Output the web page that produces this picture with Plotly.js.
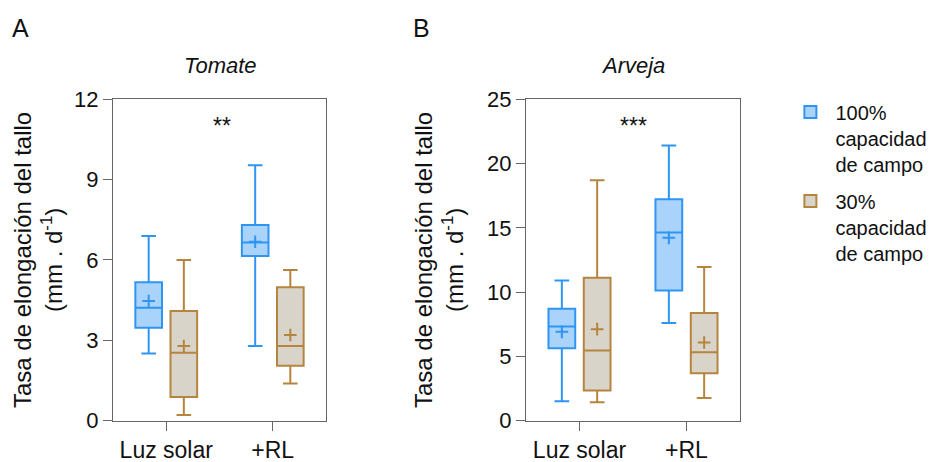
<!DOCTYPE html>
<html>
<head>
<meta charset="utf-8">
<script src="https://cdn.plot.ly/plotly-3.0.1.min.js"></script>
<style>html,body{margin:0;padding:0;background:#fff;}#chart{width:935px;height:462px;}</style>
</head>
<body>
<div id="chart"></div>
<script>
// ---- data ----
const categories = ["Luz solar", "+RL"];
const seriesNames = ["100%<br>capacidad<br>de campo", "30%<br>capacidad<br>de campo"];

// Panel A – Tomate
const tomate100_low = [2.51, 2.79];
const tomate100_q1  = [3.47, 6.15];
const tomate100_med = [4.22, 6.65];
const tomate100_q3  = [5.17, 7.31];
const tomate100_high= [6.90, 9.54];
const tomate100_mean= [4.47, 6.68];

const tomate30_low  = [0.21, 1.39];
const tomate30_q1   = [0.88, 2.05];
const tomate30_med  = [2.54, 2.79];
const tomate30_q3   = [4.10, 4.98];
const tomate30_high = [6.00, 5.63];
const tomate30_mean = [2.79, 3.20];

// Panel B – Arveja
const arveja100_low = [1.51, 7.59];
const arveja100_q1  = [5.64, 10.13];
const arveja100_med = [7.33, 14.63];
const arveja100_q3  = [8.71, 17.23];
const arveja100_high= [10.91, 21.41];
const arveja100_mean= [6.91, 14.22];

const arveja30_low  = [1.43, 1.77];
const arveja30_q1   = [2.34, 3.69];
const arveja30_med  = [5.46, 5.33];
const arveja30_q3   = [11.12, 8.37];
const arveja30_high = [18.71, 11.95];
const arveja30_mean = [7.12, 6.08];

const yTicksA = [0, 3, 6, 9, 12];
const yTicksB = [0, 5, 10, 15, 20, 25];
const sigA = "**";
const sigB = "***";

// ---- style ----
const FONT = "Liberation Sans, Arial, Helvetica, sans-serif";
const blue = "#2F95F2", blueFill = "#A9D3FA";
const brown = "#B5843E", brownFill = "#D9D4CA";
const OFFSET = 0.165, BOXW = 0.25;
const idx = categories.map((c, i) => i);
const pos = (sign) => idx.map(i => i + sign * OFFSET);

function boxTrace(name, xa, ya, sign, low, q1, med, q3, high, line, fill, showlegend, group) {
  return {
    type: "box", name: name, legendgroup: group, showlegend: showlegend,
    x: pos(sign), xaxis: xa, yaxis: ya,
    lowerfence: low, q1: q1, median: med, q3: q3, upperfence: high,
    width: BOXW, whiskerwidth: 0.55, boxpoints: false,
    line: {color: line, width: 2}, fillcolor: fill,
    hoverinfo: "skip"
  };
}
function meanTrace(xa, ya, sign, mean, color, group) {
  return {
    type: "scatter", mode: "markers", x: pos(sign), y: mean, xaxis: xa, yaxis: ya,
    showlegend: false, legendgroup: group, hoverinfo: "skip",
    marker: {symbol: "cross-thin", size: 9, line: {color: color, width: 2}}
  };
}

const data = [
  boxTrace(seriesNames[0], "x", "y", -1, tomate100_low, tomate100_q1, tomate100_med, tomate100_q3, tomate100_high, blue, blueFill, true, "g1"),
  boxTrace(seriesNames[1], "x", "y", 1, tomate30_low, tomate30_q1, tomate30_med, tomate30_q3, tomate30_high, brown, brownFill, true, "g2"),
  boxTrace(seriesNames[0], "x2", "y2", -1, arveja100_low, arveja100_q1, arveja100_med, arveja100_q3, arveja100_high, blue, blueFill, false, "g1"),
  boxTrace(seriesNames[1], "x2", "y2", 1, arveja30_low, arveja30_q1, arveja30_med, arveja30_q3, arveja30_high, brown, brownFill, false, "g2"),
  meanTrace("x", "y", -1, tomate100_mean, blue, "g1"),
  meanTrace("x", "y", 1, tomate30_mean, brown, "g2"),
  meanTrace("x2", "y2", -1, arveja100_mean, blue, "g1"),
  meanTrace("x2", "y2", 1, arveja30_mean, brown, "g2")
];

const axisLine = "#666666";
function xAxis(domain, anchor) {
  return {
    domain: domain, anchor: anchor, range: [-0.5, 1.5],
    tickmode: "array", tickvals: idx, ticktext: categories,
    ticks: "outside", ticklen: 9, tickwidth: 1, tickcolor: axisLine,
    showline: true, mirror: true, linecolor: axisLine, linewidth: 1,
    showgrid: false, zeroline: false, fixedrange: true,
    tickfont: {family: FONT, size: 23, color: "#111"}
  };
}
function yAxis(range, ticks, anchor) {
  return {
    domain: [0.0894, 0.7851], anchor: anchor, range: range,
    tickmode: "array", tickvals: ticks,
    ticks: "outside", ticklen: 9, tickwidth: 1, tickcolor: axisLine,
    showline: true, mirror: true, linecolor: axisLine, linewidth: 1,
    showgrid: false, zeroline: false, fixedrange: true,
    tickfont: {family: FONT, size: 22, color: "#111"}
  };
}

const ytitle = "Tasa de elongación del tallo<br>(mm . d<sup>-1</sup>)";
function ann(text, xref, yref, x, y, size, extra) {
  return Object.assign({text: text, xref: xref, yref: yref, x: x, y: y, xanchor: "center", yanchor: "middle",
    showarrow: false, font: {family: FONT, size: size, color: "#111"}}, extra || {});
}
const layout = {
  width: 935, height: 462,
  margin: {l: 0, r: 0, t: 0, b: 0},
  paper_bgcolor: "#fff", plot_bgcolor: "#fff",
  font: {family: FONT, color: "#111"},
  showlegend: true,
  legend: {
    x: 0.84, y: 0.80, xanchor: "left", yanchor: "top",
    font: {family: FONT, size: 20, color: "#111"},
    valign: "top", tracegroupgap: 8, itemwidth: 40,
    bgcolor: "rgba(0,0,0,0)"
  },
  xaxis: xAxis([113/935, 326/935], "y"),
  yaxis: yAxis([0, 12], yTicksA, "x"),
  xaxis2: xAxis([526/935, 740/935], "y2"),
  yaxis2: yAxis([0, 25], yTicksB, "x2"),
  annotations: [
    ann("A", "paper", "paper", 20/935, 1 - 28/462, 25),
    ann("B", "paper", "paper", 421/935, 1 - 28/462, 25),
    ann("<i>Tomate</i>", "paper", "paper", 220/935, 1 - 65/462, 22),
    ann("<i>Arveja</i>", "paper", "paper", 633/935, 1 - 65/462, 22),
    ann(sigA, "x", "y", 0.52, 11.0, 23),
    ann(sigB, "x2", "y2", 0.5, 22.9, 23),
    ann(ytitle, "paper", "paper", 38/935, 1 - 260/462, 24, {textangle: -90}),
    ann(ytitle, "paper", "paper", 439/935, 1 - 260/462, 24, {textangle: -90})
  ]
};

Plotly.newPlot("chart", data, layout, {displayModeBar: false, staticPlot: true});
</script>
</body>
</html>
